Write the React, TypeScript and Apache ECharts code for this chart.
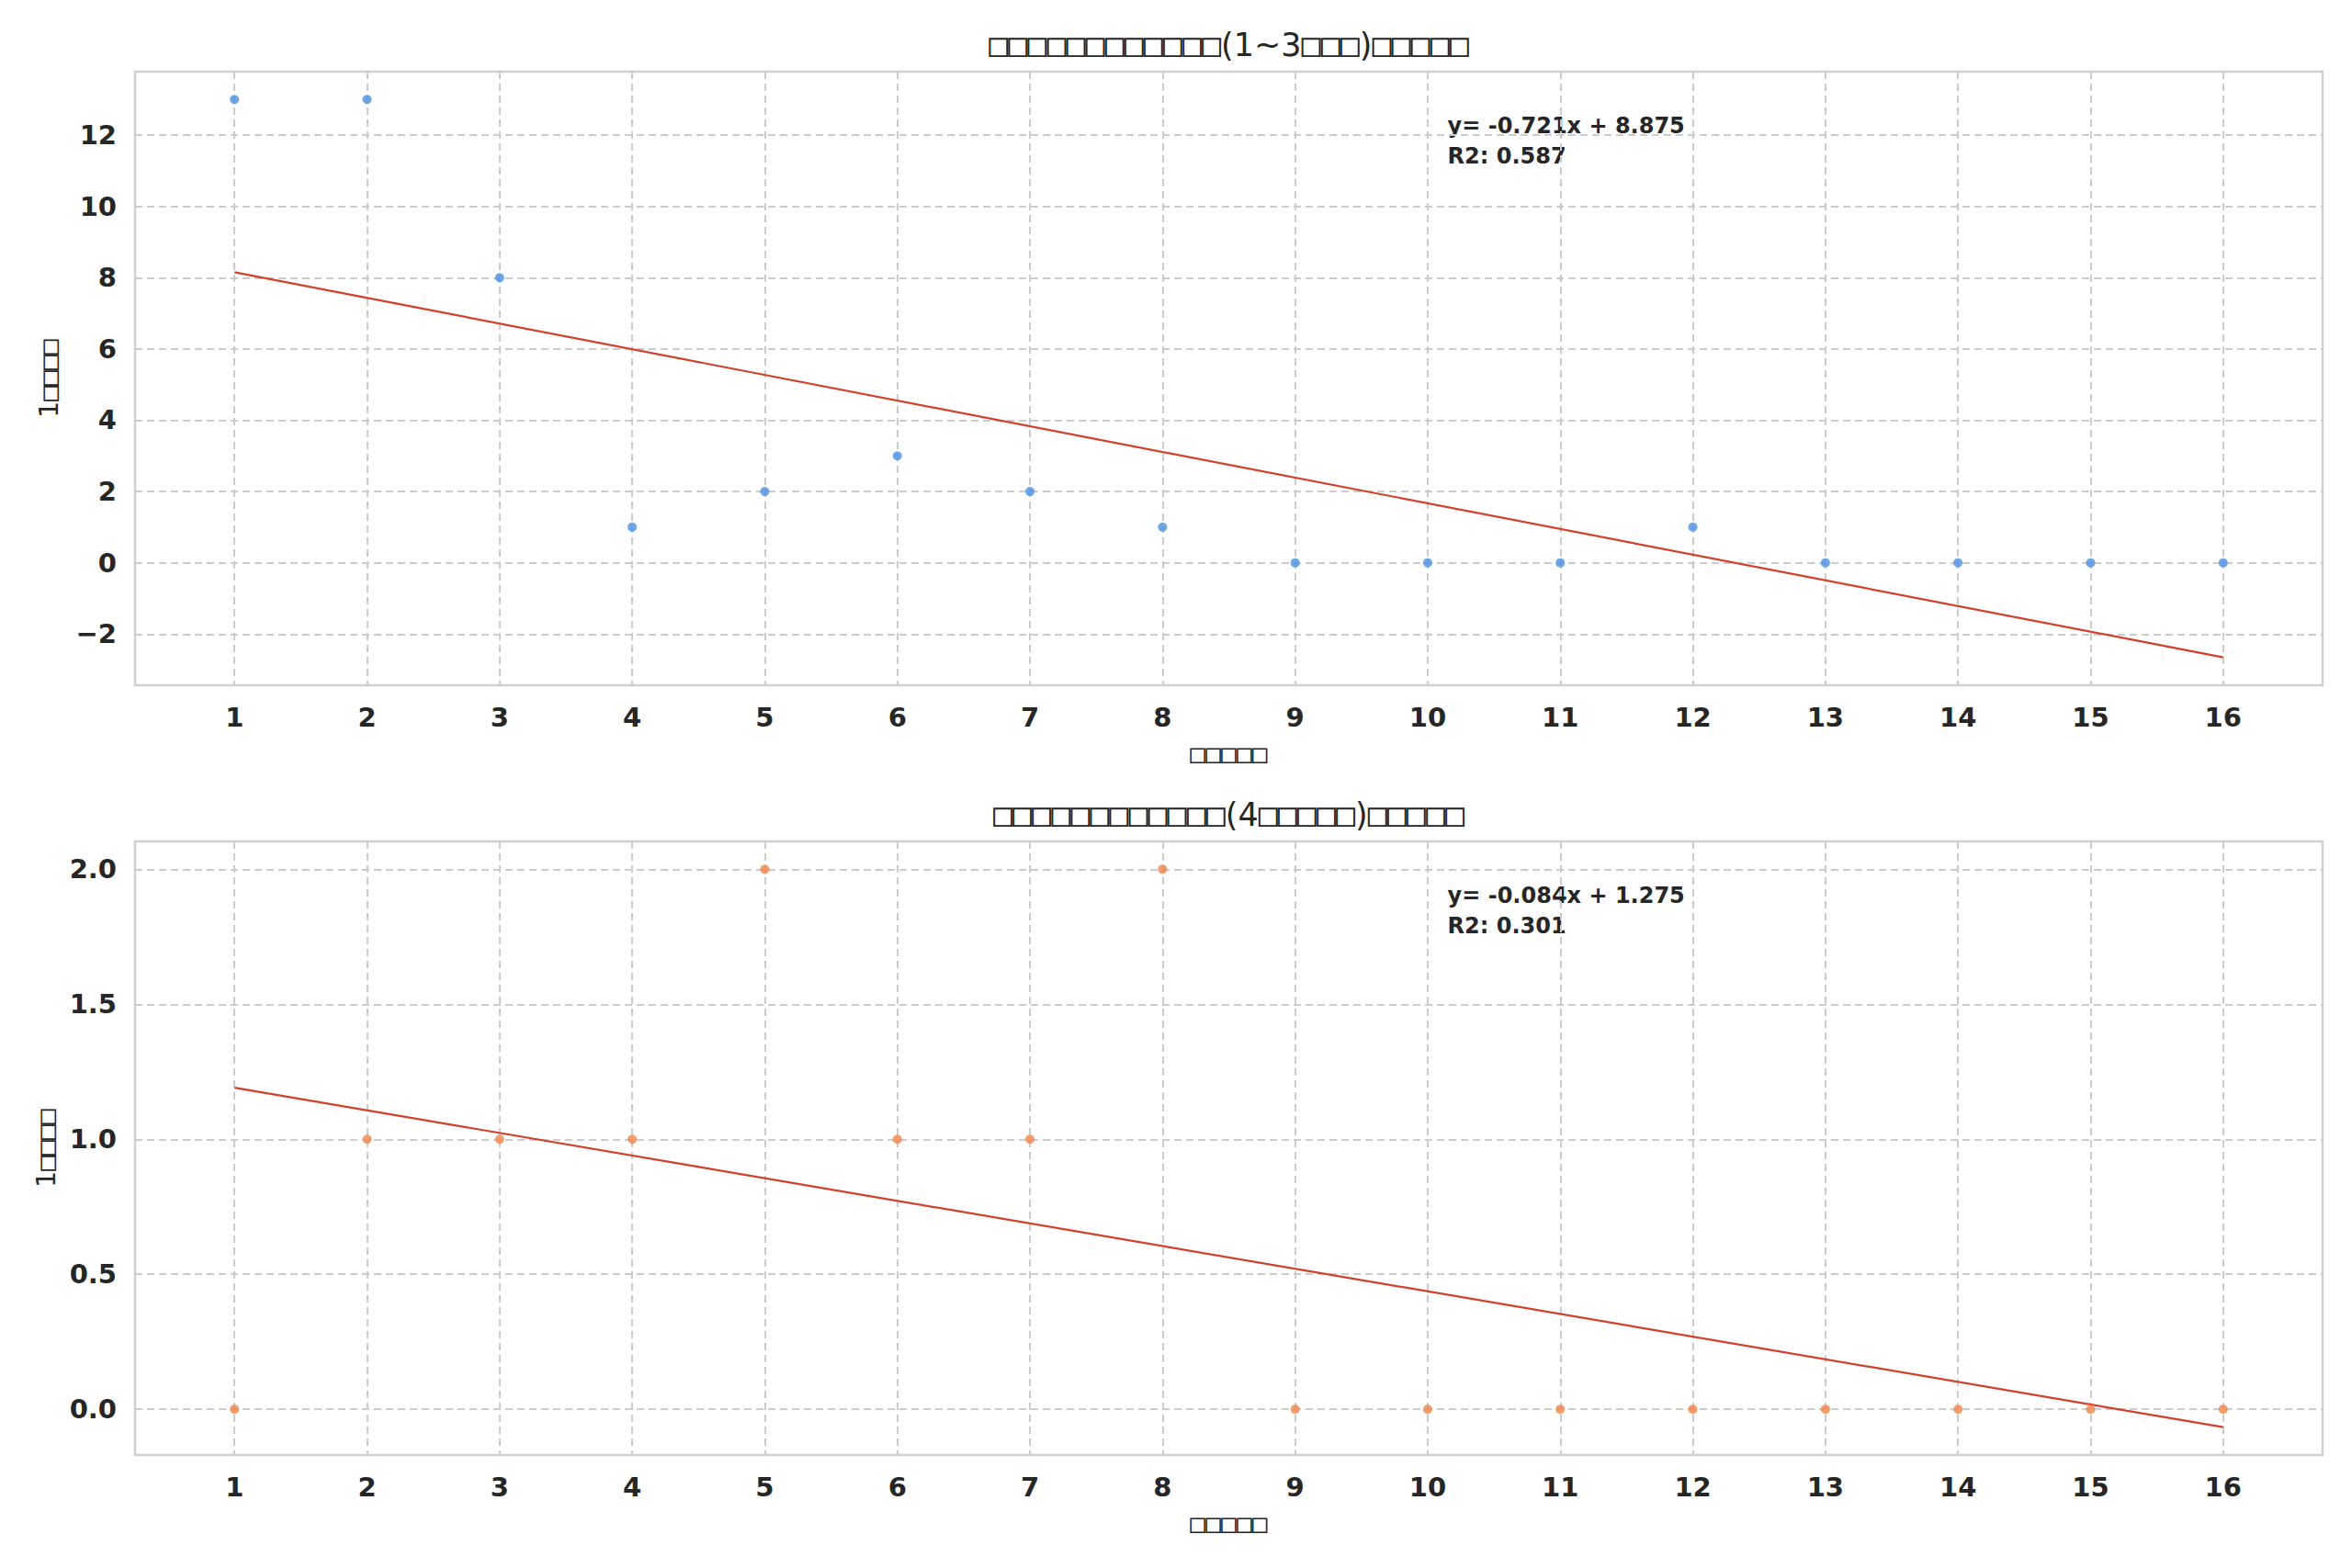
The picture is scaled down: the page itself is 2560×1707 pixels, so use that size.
import React, { useEffect, useRef } from "react";
import * as echarts from "echarts";

const weeks = [1, 2, 3, 4, 5, 6, 7, 8, 9, 10, 11, 12, 13, 14, 15, 16];
const countsTop = [13, 13, 8, 1, 2, 3, 2, 1, 0, 0, 0, 1, 0, 0, 0, 0];
const countsBottom = [0, 1, 1, 1, 2, 1, 1, 2, 0, 0, 0, 0, 0, 0, 0, 0];
const yTicksTop = [-2, 0, 2, 4, 6, 8, 10, 12];
const yTicksBottom = [0, 0.5, 1, 1.5, 2];
const titleTop = "□□□□□□□□□□□□(1~3□□□)□□□□□";
const titleBottom = "□□□□□□□□□□□□(4□□□□□)□□□□□";
const xName = "□□□□□";
const yName = "1□□□□";

function fit(xs: number[], ys: number[]) {
  const n = xs.length;
  const mx = xs.reduce((a, b) => a + b, 0) / n;
  const my = ys.reduce((a, b) => a + b, 0) / n;
  let sxy = 0, sxx = 0, syy = 0;
  for (let i = 0; i < n; i++) {
    sxy += (xs[i] - mx) * (ys[i] - my);
    sxx += (xs[i] - mx) ** 2;
    syy += (ys[i] - my) ** 2;
  }
  const slope = sxy / sxx;
  const intercept = my - slope * mx;
  const r2 = (sxy * sxy) / (sxx * syy);
  return { slope, intercept, r2 };
}

// wrap runs of missing-glyph boxes in a rich segment using a narrower box glyph
function boxRich(s: string) {
  return s.replace(/(□+)/g, "{b|$1}");
}

const W = 2560;
const H = 1707;
const GL = 147;
const GR = 32;
const GH = 668;
const TOP1 = 78;
const TOP2 = 916;
const TXT = "#262626";
const FONT = "DejaVu Sans";
const BOXFONT = "DejaVu Sans Mono";

function minus(v: number, digits: number) {
  const s = Math.abs(v).toFixed(digits);
  return v < 0 ? "\u2212" + s : s;
}

export default function App() {
  const ref = useRef<HTMLDivElement>(null);
  useEffect(() => {
    document.body.style.margin = "0";
    if (!ref.current) return;
    const chart = echarts.init(ref.current, null, { renderer: "svg" });
    const fTop = fit(weeks, countsTop);
    const fBot = fit(weeks, countsBottom);
    const x0 = weeks[0];
    const x1 = weeks[weeks.length - 1];
    const xPad = (x1 - x0) * 0.05;
    const lineTop = [[x0, fTop.intercept + fTop.slope * x0], [x1, fTop.intercept + fTop.slope * x1]];
    const lineBot = [[x0, fBot.intercept + fBot.slope * x0], [x1, fBot.intercept + fBot.slope * x1]];
    const ext = (vals: number[]) => {
      const mn = Math.min(...vals);
      const mx = Math.max(...vals);
      const p = (mx - mn) * 0.05;
      return [mn - p, mx + p];
    };
    const eTop = ext([...countsTop, lineTop[0][1], lineTop[1][1]]);
    const eBot = ext([...countsBottom, lineBot[0][1], lineBot[1][1]]);

    const nameRich = { b: { fontFamily: BOXFONT, fontSize: 28, color: TXT } };
    const split = { show: true, lineStyle: { color: "#cccccc", width: 2, type: [8, 5] } };
    const xAxisBase = (gi: number) => ({
      type: "value",
      gridIndex: gi,
      min: x0 - xPad,
      max: x1 + xPad,
      name: boxRich(xName),
      nameLocation: "middle",
      nameGap: 60,
      nameTextStyle: { fontSize: 28, color: TXT, fontFamily: FONT, rich: nameRich },
      axisLine: { show: false },
      axisTick: { show: false, customValues: weeks },
      axisLabel: {
        customValues: weeks,
        margin: 20,
        fontSize: 29,
        fontWeight: "bold",
        color: TXT,
        fontFamily: FONT,
      },
      splitLine: split,
    });
    const yAxisBase = (gi: number, e: number[], ticks: number[], digits: number) => ({
      type: "value",
      gridIndex: gi,
      min: e[0],
      max: e[1],
      name: boxRich(yName),
      nameLocation: "middle",
      nameGap: 80,
      nameTextStyle: { fontSize: 28, color: TXT, fontFamily: FONT, rich: nameRich },
      axisLine: { show: false },
      axisTick: { show: false, customValues: ticks },
      axisLabel: {
        customValues: ticks,
        margin: 20,
        fontSize: 29,
        fontWeight: "bold",
        color: TXT,
        fontFamily: FONT,
        formatter: (v: number) => minus(v, digits),
      },
      splitLine: split,
    });
    const annX = GL + 0.6 * (W - GL - GR);
    const txt = (x: number, y: number, text: string, size: number, weight: string, align: string) => ({
      type: "text",
      x,
      y,
      silent: true,
      style: {
        text,
        fontSize: size,
        fontFamily: FONT,
        fontWeight: weight,
        fill: TXT,
        align,
        textAlign: align,
        verticalAlign: "middle",
        textVerticalAlign: "middle",
        rich: { b: { fontFamily: BOXFONT, fontSize: size, fill: TXT, fontWeight: weight } },
      },
    });
    const axesCenter = GL + (W - GL - GR) / 2;
    chart.setOption({
      animation: false,
      backgroundColor: "#ffffff",
      grid: [
        { left: GL, right: GR, top: TOP1, height: GH, show: true, borderColor: "#d0d0d0", borderWidth: 2.5, backgroundColor: "transparent" },
        { left: GL, right: GR, top: TOP2, height: GH, show: true, borderColor: "#d0d0d0", borderWidth: 2.5, backgroundColor: "transparent" },
      ],
      xAxis: [xAxisBase(0), xAxisBase(1)],
      yAxis: [yAxisBase(0, eTop, yTicksTop, 0), yAxisBase(1, eBot, yTicksBottom, 1)],
      series: [
        {
          type: "line",
          xAxisIndex: 0,
          yAxisIndex: 0,
          data: lineTop,
          showSymbol: false,
          lineStyle: { color: "#d23f2b", width: 2.2 },
          z: 2,
        },
        {
          type: "scatter",
          xAxisIndex: 0,
          yAxisIndex: 0,
          data: weeks.map((w, i) => [w, countsTop[i]]),
          symbolSize: 10,
          itemStyle: { color: "#4a90e2" },
          z: 3,
        },
        {
          type: "line",
          xAxisIndex: 1,
          yAxisIndex: 1,
          data: lineBot,
          showSymbol: false,
          lineStyle: { color: "#d23f2b", width: 2.2 },
          z: 2,
        },
        {
          type: "scatter",
          xAxisIndex: 1,
          yAxisIndex: 1,
          data: weeks.map((w, i) => [w, countsBottom[i]]),
          symbolSize: 10,
          itemStyle: { color: "#f0844a" },
          z: 3,
        },
      ],
      graphic: [
        txt(axesCenter, 49, boxRich(titleTop), 35, "normal", "center"),
        txt(axesCenter, 887, boxRich(titleBottom), 35, "normal", "center"),
        txt(annX, 137, `y= ${fTop.slope.toFixed(3)}x + ${fTop.intercept.toFixed(3)}`, 24, "bold", "left"),
        txt(annX, 170, `R2: ${fTop.r2.toFixed(3)}`, 24, "bold", "left"),
        txt(annX, 975, `y= ${fBot.slope.toFixed(3)}x + ${fBot.intercept.toFixed(3)}`, 24, "bold", "left"),
        txt(annX, 1008, `R2: ${fBot.r2.toFixed(3)}`, 24, "bold", "left"),
      ],
    });
    return () => chart.dispose();
  }, []);
  return <div ref={ref} style={{ width: W, height: H }} />;
}
